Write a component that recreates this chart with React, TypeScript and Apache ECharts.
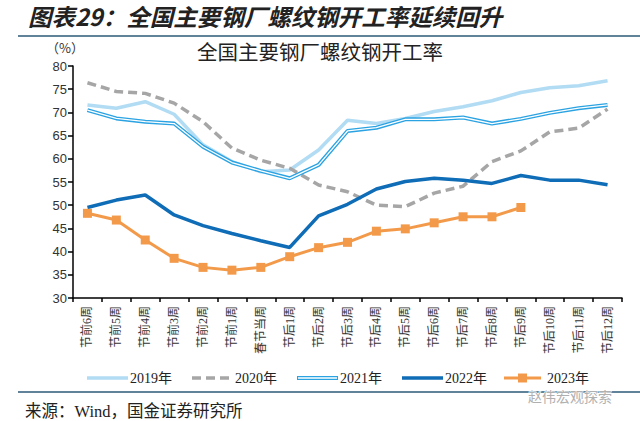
import React, { useEffect, useRef } from "react";
import * as echarts from "echarts";

const categories = [
  "节前6周", "节前5周", "节前4周", "节前3周", "节前2周", "节前1周", "春节当周",
  "节后1周", "节后2周", "节后3周", "节后4周", "节后5周", "节后6周", "节后7周",
  "节后8周", "节后9周", "节后10周", "节后11周", "节后12周",
];
const s2019 = [71.6, 70.9, 72.3, 69.6, 63.0, 59.4, 57.2, 57.6, 61.9, 68.3, 67.6, 68.7, 70.2, 71.2, 72.5, 74.3, 75.3, 75.75, 76.8];
const s2020 = [76.4, 74.5, 74.1, 72.0, 68.0, 62.3, 59.7, 57.95, 54.35, 52.9, 50.0, 49.7, 52.6, 54.1, 59.4, 61.7, 65.8, 66.6, 70.7];
const s2021 = [70.5, 68.7, 68.0, 67.6, 62.6, 59.2, 57.4, 55.8, 58.7, 66.0, 66.7, 68.5, 68.5, 68.9, 67.6, 68.6, 69.9, 70.9, 71.6];
const s2022 = [49.5, 51.1, 52.2, 47.9, 45.6, 43.9, 42.35, 40.9, 47.7, 50.2, 53.5, 55.1, 55.8, 55.4, 54.7, 56.4, 55.4, 55.4, 54.4];
const s2023 = [48.25, 46.8, 42.5, 38.55, 36.6, 36.0, 36.6, 38.9, 40.85, 42.0, 44.4, 44.9, 46.2, 47.5, 47.5, 49.5];

const seriesNames = ["2019年", "2020年", "2021年", "2022年", "2023年"];
const yMin = 30;
const yMax = 80;
const yStep = 5;

const C2019 = "#b2dcf3";
const C2020 = "#a6a6a6";
const C2021 = "#2ba3e2";
const C2022 = "#0f6cb6";
const C2023 = "#f39a4a";

const SERIF = "'Liberation Serif', 'Noto Sans CJK SC', serif";
const CJK = "'Noto Sans CJK SC', sans-serif";

function legendGraphics() {
  const y = 378;
  const starts = [87, 192, 297, 402, 504];
  const lineLen = 41;
  const items: any[] = [];
  starts.forEach((x, i) => {
    const x2 = x + lineLen;
    if (i === 0) {
      items.push({ type: "line", shape: { x1: x, y1: y, x2, y2: y }, style: { stroke: C2019, lineWidth: 3.5 } });
    } else if (i === 1) {
      items.push({ type: "line", shape: { x1: x, y1: y, x2: x2 - 3, y2: y }, style: { stroke: C2020, lineWidth: 3.5, lineDash: [9, 5] } });
    } else if (i === 2) {
      items.push({ type: "line", shape: { x1: x, y1: y, x2, y2: y }, style: { stroke: C2021, lineWidth: 4 } });
      items.push({ type: "line", shape: { x1: x + 1, y1: y, x2: x2 - 1, y2: y }, style: { stroke: "#ffffff", lineWidth: 1.3 } });
    } else if (i === 3) {
      items.push({ type: "line", shape: { x1: x, y1: y, x2, y2: y }, style: { stroke: C2022, lineWidth: 3.5 } });
    } else {
      items.push({ type: "line", shape: { x1: x, y1: y, x2: x2 - 4, y2: y }, style: { stroke: C2023, lineWidth: 3 } });
      items.push({ type: "rect", shape: { x: x + 14, y: y - 4.5, width: 9, height: 9 }, style: { fill: C2023 } });
    }
    items.push({
      type: "text",
      x: x2 + 2,
      y,
      style: {
        text: seriesNames[i],
        fontFamily: SERIF,
        fontSize: 14,
        fill: "#222",
        verticalAlign: "middle",
        align: "left",
      },
    });
  });
  return items;
}

export default function App() {
  const ref = useRef<HTMLDivElement>(null);
  useEffect(() => {
    if (!ref.current) return;
    const chart = echarts.init(ref.current, null, { renderer: "svg" });
    chart.setOption({
      animation: false,
      backgroundColor: "#ffffff",
      grid: { left: 73, right: 18, top: 66, bottom: 123, containLabel: false },
      xAxis: {
        type: "category",
        data: categories,
        boundaryGap: true,
        axisLine: { lineStyle: { color: "#000", width: 1.5 } },
        axisTick: { show: true, length: 4, lineStyle: { color: "#000", width: 1.5 } },
        axisLabel: {
          rotate: 90,
          interval: 0,
          margin: 8,
          fontFamily: SERIF,
          fontSize: 12,
          color: "#333",
        },
      },
      yAxis: {
        type: "value",
        min: yMin,
        max: yMax,
        interval: yStep,
        splitLine: { show: false },
        axisLine: { show: true, lineStyle: { color: "#000", width: 1.5 } },
        axisTick: { show: true, length: 5, lineStyle: { color: "#000", width: 1.5 } },
        axisLabel: {
          margin: 6,
          fontFamily: "'Liberation Sans', Arial, sans-serif",
          fontSize: 13,
          color: "#333",
        },
      },
      series: [
        {
          name: "2019年",
          type: "line",
          data: s2019,
          symbol: "none",
          lineStyle: { color: C2019, width: 3.5 },
          itemStyle: { color: C2019 },
          z: 2,
        },
        {
          name: "2020年",
          type: "line",
          data: s2020,
          symbol: "none",
          lineStyle: { color: C2020, width: 3.5, type: [9, 5] },
          itemStyle: { color: C2020 },
          z: 3,
        },
        {
          name: "2021年",
          type: "line",
          data: s2021,
          symbol: "none",
          lineStyle: { color: C2021, width: 4 },
          itemStyle: { color: C2021 },
          z: 4,
        },
        {
          name: "2021年-inner",
          type: "line",
          data: s2021,
          symbol: "none",
          lineStyle: { color: "#ffffff", width: 1.3 },
          itemStyle: { color: "#ffffff" },
          z: 5,
          silent: true,
        },
        {
          name: "2022年",
          type: "line",
          data: s2022,
          symbol: "none",
          lineStyle: { color: C2022, width: 3.5 },
          itemStyle: { color: C2022 },
          z: 6,
        },
        {
          name: "2023年",
          type: "line",
          data: s2023,
          symbol: "rect",
          symbolSize: 9,
          lineStyle: { color: C2023, width: 3 },
          itemStyle: { color: C2023 },
          z: 7,
        },
      ],
      graphic: [
        {
          type: "text",
          x: 28,
          y: 16,
          style: {
            text: "图表29：全国主要钢厂螺纹钢开工率延续回升",
            fontFamily: CJK,
            fontSize: 23.5,
            fontWeight: "bold",
            fontStyle: "italic",
            fill: "#222",
            verticalAlign: "middle",
          },
        },
        {
          type: "line",
          shape: { x1: 18, y1: 36, x2: 640, y2: 36 },
          style: { stroke: "#2d5a78", lineWidth: 1.5 },
        },
        {
          type: "text",
          x: 320,
          y: 51,
          style: {
            text: "全国主要钢厂螺纹钢开工率",
            fontFamily: CJK,
            fontSize: 20.5,
            fill: "#222",
            align: "center",
            verticalAlign: "middle",
          },
        },
        {
          type: "text",
          x: 46,
          y: 47,
          style: { text: "（%）", fontFamily: CJK, fontSize: 13, fill: "#333", verticalAlign: "middle" },
        },
        ...legendGraphics(),
        {
          type: "line",
          shape: { x1: 18, y1: 392, x2: 640, y2: 392 },
          style: { stroke: "#2d5a78", lineWidth: 1.5 },
        },
        {
          type: "text",
          x: 528,
          y: 396,
          style: {
            text: "赵伟宏观探索",
            fontFamily: CJK,
            fontSize: 14,
            fill: "#b0b0b0",
            stroke: "#ffffff",
            lineWidth: 1,
            verticalAlign: "middle",
          },
          z: 101,
        },
        {
          type: "text",
          x: 25,
          y: 411,
          style: {
            text: "来源：Wind，国金证券研究所",
            fontFamily: SERIF,
            fontSize: 16.5,
            fill: "#222",
            verticalAlign: "middle",
          },
        },
      ],
    });
    return () => chart.dispose();
  }, []);
  return (
    <div
      ref={ref}
      style={{ position: "absolute", left: 0, top: 0, width: 640, height: 421 }}
    />
  );
}
